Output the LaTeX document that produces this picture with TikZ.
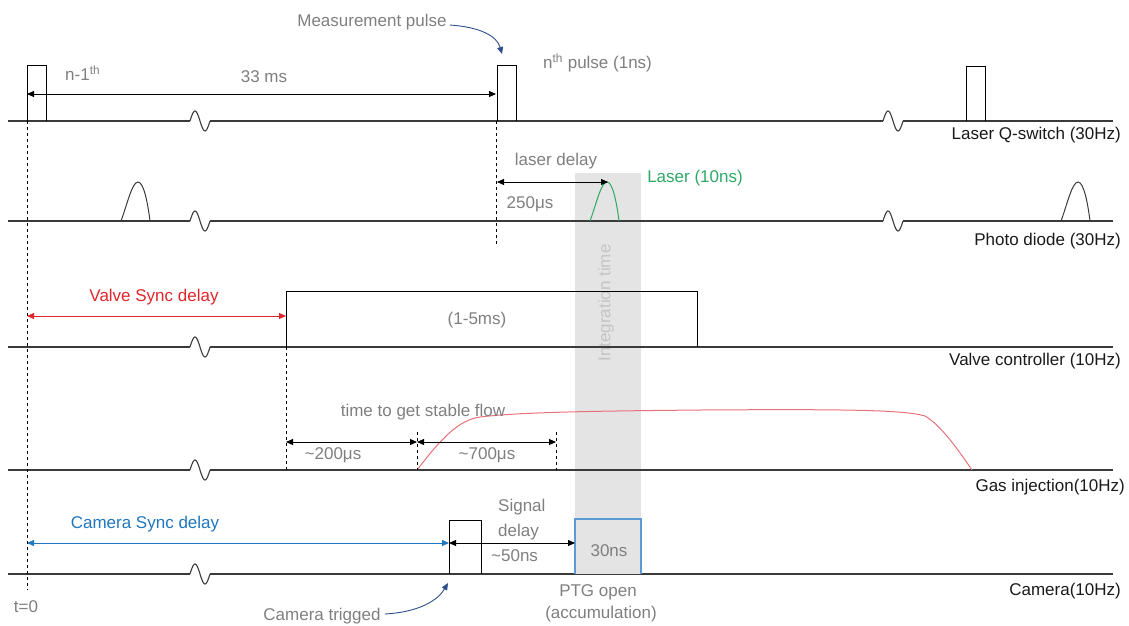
\documentclass[tikz,border=0pt]{standalone}
\usepackage{fontspec}
\setmainfont{Liberation Sans}
\usetikzlibrary{arrows.meta}
\definecolor{txtgray}{HTML}{7F7F7F}
\definecolor{lblblack}{HTML}{1A1A1A}
\definecolor{linegray}{HTML}{3A3A3A}
\definecolor{vred}{HTML}{E0262C}
\definecolor{cblue}{HTML}{1F77BF}
\definecolor{lgreen}{HTML}{2EA866}
\definecolor{darrow}{HTML}{2F4E8C}
\definecolor{gasred}{HTML}{E8707A}
\definecolor{intgray}{HTML}{E4E4E4}
\definecolor{inttxt}{HTML}{C4C4C4}
\definecolor{ptgblue}{HTML}{5B9BD5}
\tikzset{
  base/.style={draw=linegray, line width=1.1pt},
  pulse/.style={draw=black, line width=1pt},
  guide/.style={draw=black, line width=0.8pt, dash pattern=on 3pt off 3pt},
  dim/.style={draw=black, line width=0.9pt, {Triangle[length=7pt,width=6pt]}-{Triangle[length=7pt,width=6pt]}},
  gtxt/.style={text=txtgray, inner sep=0pt},
  chlabel/.style={text=lblblack, inner sep=0pt, anchor=base east},
}
\newcommand\wavebrk[2]{\draw[base] plot[domain=0:360,samples=30,smooth] ({#1+\x/18},{#2-10*sin(\x)});}
\newcommand\bumpat[3]{\draw[#3, line width=1pt] (#1,#2) .. controls ({#1+6},{#2-16}) and ({#1+11},{#2-39}) .. ({#1+17},{#2-39}) .. controls ({#1+23},{#2-39}) and ({#1+27},{#2-16}) .. ({#1+29},#2);}
\begin{document}
\begin{tikzpicture}[x=1pt,y=-1pt, font=\fontsize{17}{20}\selectfont]
\useasboundingbox (0,0) rectangle (1129,625);

% integration time background
\fill[intgray] (575,173) rectangle (641,574);
\node[text=inttxt, rotate=90, inner sep=0pt] (integ) at (606,303) {Integration time};

% ---------- Laser Q-switch ----------
\draw[base] (8,121) -- (190,121);
\draw[base] (210,121) -- (883,121);
\draw[base] (903,121) -- (1113,121);
\wavebrk{190}{121}
\wavebrk{883}{121}
\draw[pulse] (27,121) -- (27,65) -- (46,65) -- (46,121);
\draw[pulse] (497,121) -- (497,65) -- (516,65) -- (516,121);
\draw[pulse] (966,121) -- (966,66) -- (985,66) -- (985,121);
\node[chlabel] (lq) at (1121,139) {Laser Q-switch (30Hz)};
\node[gtxt, anchor=west] (nm1) at (65,73) {n-1\textsuperscript{th}};
\node[gtxt] (t33) at (264,77) {33 ms};
\node[gtxt, anchor=west] (nth) at (543,63) {n\textsuperscript{th} pulse (1ns)};
\node[gtxt] (meas) at (372,22) {Measurement pulse};
\coordinate (p1) at (27,94);
\coordinate (p2) at (496,94);
\draw[dim] (p1) -- (p2);
\coordinate (mtip) at (502,54);
\draw[darrow, line width=0.9pt, -{Triangle[length=7pt,width=6pt]}] (meas.east) ++(3,3) .. controls (480,27) and (497,36) .. (mtip);

% ---------- Photo diode ----------
\draw[base] (8,221) -- (190,221);
\draw[base] (210,221) -- (883,221);
\draw[base] (903,221) -- (1113,221);
\wavebrk{190}{221}
\wavebrk{883}{221}
\bumpat{121}{221}{linegray}
\bumpat{590}{221}{lgreen}
\bumpat{1061}{221}{linegray}
\node[chlabel] (pd) at (1121,245) {Photo diode (30Hz)};
\coordinate (ld1) at (497,182);
\coordinate (ld2) at (608,182);
\draw[dim] (ld1) -- (ld2);
\node[gtxt] (ldl) at (556,161) {laser delay};
\node[gtxt] (ld250) at (530,204) {250μs};
\node[text=lgreen, inner sep=0pt] (lasr) at (695,178) {Laser (10ns)};

% ---------- Valve controller ----------
\draw[base] (8,347) -- (190,347);
\draw[base] (210,347) -- (1113,347);
\wavebrk{190}{347}
\draw[pulse] (286,347) -- (286,291) -- (697,291) -- (697,347);
\node[gtxt] (v15) at (477,320) {(1-5ms)};
\node[chlabel] (vc) at (1121,365) {Valve controller (10Hz)};
\node[text=vred, inner sep=0pt] (vsd) at (154,297) {Valve Sync delay};
\coordinate (vs1) at (27,316);
\coordinate (vs2) at (286,316);
\draw[dim, draw=vred, {Triangle[length=7pt,width=6pt,fill=vred]}-{Triangle[length=7pt,width=6pt,fill=vred]}] (vs1) -- (vs2);

% ---------- Gas injection ----------
\draw[base] (8,470) -- (190,470);
\draw[base] (210,470) -- (1113,470);
\wavebrk{190}{470}
\draw[gasred, line width=1pt] (417,470) .. controls (440,440) and (458,420) .. (480,417)
  .. controls (520,412) and (600,411) .. (700,410)
  .. controls (850,409) and (905,410) .. (925,416)
  .. controls (940,425) and (955,445) .. (972,470);
\node[chlabel] (gi) at (1125,491) {Gas injection(10Hz)};
\node[gtxt] (tsf) at (423,412) {time to get stable flow};
\coordinate (g1) at (286,442);
\coordinate (g2) at (417,442);
\coordinate (g3) at (556,442);
\draw[dim] (g1) -- (g2);
\draw[dim] (g2) -- (g3);
\node[gtxt] (g200) at (333,455) {\textasciitilde200μs};
\node[gtxt] (g700) at (487,455) {\textasciitilde700μs};

% ---------- Camera ----------
\draw[base] (8,574) -- (190,574);
\draw[base] (210,574) -- (1113,574);
\wavebrk{190}{574}
\draw[pulse] (449,574) -- (449,520) -- (481,520) -- (481,574);
\draw[ptgblue, line width=1.1pt, fill=intgray] (575,574) -- (575,519) -- (641,519) -- (641,574);
\node[gtxt] (c30) at (609,551) {30ns};
\node[chlabel] (cam) at (1121,595) {Camera(10Hz)};
\node[text=cblue, inner sep=0pt] (csd) at (145,524) {Camera Sync delay};
\coordinate (c1) at (27,543);
\coordinate (c2) at (449,543);
\coordinate (c3) at (575,543);
\draw[dim, draw=cblue, {Triangle[length=7pt,width=6pt,fill=cblue]}-{Triangle[length=7pt,width=6pt,fill=cblue]}] (c1) -- (c2);
\draw[dim] (c2) -- (c3);
\node[gtxt, anchor=west] (sig1) at (498,507) {Signal};
\node[gtxt, anchor=west] (sig2) at (498,532) {delay};
\node[gtxt, anchor=west] (sig3) at (491,556) {\textasciitilde50ns};
\node[gtxt] (ptg1) at (598,592) {PTG open};
\node[gtxt] (ptg2) at (601,614) {(accumulation)};
\node[gtxt] (t0) at (26,607) {t=0};
\node[gtxt] (ctr) at (322,616) {Camera trigged};
\coordinate (ctip) at (448,583);
\draw[darrow, line width=0.9pt, -{Triangle[length=7pt,width=6pt]}] (ctr.east) ++(4,-2) .. controls (420,612) and (438,600) .. (ctip);

% ---------- guide lines ----------
\draw[guide] (27,121) -- (27,590);
\draw[guide] (496,121) -- (496,246);
\draw[guide] (286,347) -- (286,470);
\draw[guide] (417,432) -- (417,470);
\draw[guide] (556,432) -- (556,470);
\end{tikzpicture}
\end{document}
